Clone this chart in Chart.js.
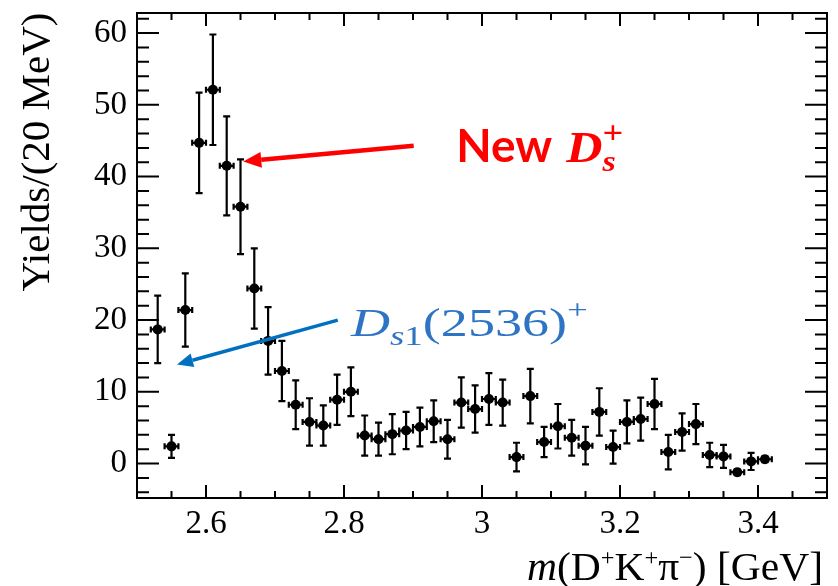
<!DOCTYPE html>
<html><head><meta charset="utf-8">
<script src="https://cdn.jsdelivr.net/npm/chart.js@4"></script>
<style>html,body{margin:0;padding:0;background:#fff}#wrap{width:838px;height:586px}</style>
</head><body><div id="wrap"><canvas id="c" width="838" height="586"></canvas></div>
<script>
// ---- data ----
const binCenters = [2.53,2.55,2.57,2.59,2.61,2.63,2.65,2.67,2.69,2.71,2.73,2.75,2.77,2.79,2.81,2.83,2.85,2.87,2.89,2.91,2.93,2.95,2.97,2.99,3.01,3.03,3.05,3.07,3.09,3.11,3.13,3.15,3.17,3.19,3.21,3.23,3.25,3.27,3.29,3.31,3.33,3.35,3.37,3.39,3.41];
const yields = [18.7,2.4,21.4,44.7,52.1,41.5,35.8,24.4,17.1,12.9,8.2,5.8,5.3,8.9,10.0,3.9,3.4,4.1,4.6,5.1,5.9,3.4,8.5,7.6,9.0,8.5,0.9,9.4,3.0,5.2,3.6,2.5,7.2,2.3,5.8,6.2,8.3,1.6,4.4,5.5,1.2,1.0,-1.2,0.3,0.6];
const yieldErrors = [4.7,1.6,5.1,7.0,7.7,6.9,6.6,5.6,4.7,4.2,3.4,3.3,2.8,3.5,3.4,2.8,2.3,2.8,2.6,2.7,2.9,2.7,3.5,3.3,3.6,3.2,2.0,3.8,2.1,3.1,2.5,2.6,3.3,2.3,3.0,3.0,3.5,2.4,2.6,2.8,1.7,1.6,0.4,1.2,0.4];
const binHalfWidth = 0.01;
const xMajorTicks = [2.6,2.8,3.0,3.2,3.4];
const xTickLabels = ['2.6','2.8','3','3.2','3.4'];
const yMajorTicks = [0,10,20,30,40,50,60];
const yTickLabels = ['0','10','20','30','40','50','60'];
const xRange = [2.5, 3.5];
const yRange = [-4.8, 62.8];
const xMinorStep = 0.05, yMinorStep = 2;

// ---- annotation placement (data coordinates) ----
const redNote = {anchor:[2.9626, 42.0], tail:[2.901, 44.3], head:[2.654, 42.1], color:'#FF0000'};
const blueNote = {anchor:[2.810, 17.8], tail:[2.791, 20.0], head:[2.558, 13.8], color:'#2E74C4', arrowColor:'#0070C0'};

const SERIF = '"Liberation Serif", "Times New Roman", serif';

function drawRuns(ctx, x, y, runs, targetWidth) {
  let natural = 0;
  const widths = runs.map(r => { ctx.font = r.font; return ctx.measureText(r.text).width; });
  runs.forEach((r,i) => { if (!r.stack) natural += widths[i]; });
  const sx = targetWidth ? targetWidth / natural : 1;
  ctx.save();
  ctx.translate(x, y);
  ctx.scale(sx, 1);
  let cx = 0;
  runs.forEach((r,i) => {
    ctx.font = r.font;
    ctx.fillText(r.text, cx, r.dy || 0);
    if (!r.stack) cx += widths[i];
  });
  ctx.restore();
}

function arrow(ctx, x1, y1, x2, y2, color, lw, hl, hw) {
  const a = Math.atan2(y2 - y1, x2 - x1);
  const bx = x2 - hl * Math.cos(a), by = y2 - hl * Math.sin(a);
  ctx.save();
  ctx.strokeStyle = color; ctx.fillStyle = color; ctx.lineWidth = lw;
  ctx.beginPath(); ctx.moveTo(x1, y1); ctx.lineTo(bx, by); ctx.stroke();
  ctx.beginPath();
  ctx.moveTo(x2, y2);
  ctx.lineTo(bx + hw * Math.sin(a), by - hw * Math.cos(a));
  ctx.lineTo(bx - hw * Math.sin(a), by + hw * Math.cos(a));
  ctx.closePath(); ctx.fill();
  ctx.restore();
}

const errorBars = {
  id: 'errorBars',
  beforeDatasetsDraw(chart) {
    const {ctx, scales: {x, y}} = chart;
    ctx.save();
    ctx.strokeStyle = '#000'; ctx.lineWidth = 2.2;
    binCenters.forEach((c, i) => {
      const px = x.getPixelForValue(c);
      const py = y.getPixelForValue(yields[i]);
      const pt = y.getPixelForValue(yields[i] + yieldErrors[i]);
      const pb = y.getPixelForValue(yields[i] - yieldErrors[i]);
      const pl = x.getPixelForValue(c - binHalfWidth);
      const pr = x.getPixelForValue(c + binHalfWidth);
      ctx.beginPath();
      ctx.moveTo(px, pt); ctx.lineTo(px, pb);
      ctx.moveTo(px - 3.5, pt); ctx.lineTo(px + 3.5, pt);
      ctx.moveTo(px - 3.5, pb); ctx.lineTo(px + 3.5, pb);
      ctx.moveTo(pl, py); ctx.lineTo(pr, py);
      ctx.moveTo(pl, py - 3); ctx.lineTo(pl, py + 3);
      ctx.moveTo(pr, py - 3); ctx.lineTo(pr, py + 3);
      ctx.stroke();
    });
    ctx.restore();
  }
};

const frameAndLabels = {
  id: 'frameAndLabels',
  afterDraw(chart) {
    const {ctx, chartArea: ca, scales: {x, y}} = chart;
    ctx.save();
    ctx.strokeStyle = '#000'; ctx.lineWidth = 2;
    ctx.strokeRect(ca.left, ca.top, ca.right - ca.left, ca.bottom - ca.top);
    ctx.beginPath();
    for (let v = Math.ceil(xRange[0] / xMinorStep) * xMinorStep; v < xRange[1] - 1e-9; v += xMinorStep) {
      if (v <= xRange[0] + 1e-9) continue;
      const major = Math.abs(v / 0.2 - Math.round(v / 0.2)) < 1e-6;
      const L = major ? 13 : 7;
      const px = x.getPixelForValue(v);
      ctx.moveTo(px, ca.bottom); ctx.lineTo(px, ca.bottom - L);
      ctx.moveTo(px, ca.top); ctx.lineTo(px, ca.top + L);
    }
    for (let v = Math.ceil(yRange[0] / yMinorStep) * yMinorStep; v <= yRange[1]; v += yMinorStep) {
      const major = Math.abs(v % 10) < 1e-6;
      const L = major ? 22 : 12;
      const py = y.getPixelForValue(v);
      ctx.moveTo(ca.left, py); ctx.lineTo(ca.left + L, py);
      ctx.moveTo(ca.right, py); ctx.lineTo(ca.right - L, py);
    }
    ctx.stroke();

    // y axis title
    ctx.fillStyle = '#000';
    ctx.save();
    ctx.translate(38, 152);
    ctx.rotate(-Math.PI / 2);
    ctx.textAlign = 'center'; ctx.textBaseline = 'middle';
    ctx.font = '41px ' + SERIF;
    ctx.fillText('Yields/(20 MeV)', 0, 0);
    ctx.restore();

    // x axis title, right aligned
    ctx.textBaseline = 'alphabetic'; ctx.textAlign = 'left';
    const big = '41px ' + SERIF, it = 'italic 41px ' + SERIF, sm = '24px ' + SERIF;
    const titleRuns = [
      {text:'m', font:it}, {text:'(D', font:big}, {text:'+', font:sm, dy:-15},
      {text:'K', font:big}, {text:'+', font:sm, dy:-15}, {text:'\u03c0', font:big},
      {text:'\u2212', font:sm, dy:-15}, {text:') [GeV]', font:big}
    ];
    drawRuns(ctx, 527, 580, titleRuns, 296);

    // red annotation
    ctx.fillStyle = redNote.color;
    const ra = [x.getPixelForValue(redNote.anchor[0]), y.getPixelForValue(redNote.anchor[1])];
    ctx.font = 'bold 46px Lato, "Open Sans", sans-serif';
    ctx.fillText('New', ra[0], ra[1]);
    drawRuns(ctx, ra[0] + 110, ra[1], [
      {text:'D', font:'bold italic 44px ' + SERIF},
      {text:'s', font:'bold italic 30px ' + SERIF, dy:9, stack:true},
      {text:'+', font:'bold 32px ' + SERIF, dy:-19}
    ], 57);
    arrow(ctx, x.getPixelForValue(redNote.tail[0]), y.getPixelForValue(redNote.tail[1]),
      x.getPixelForValue(redNote.head[0]), y.getPixelForValue(redNote.head[1]), redNote.color, 4.5, 18, 8);

    // blue annotation
    ctx.fillStyle = blueNote.color;
    const ba = [x.getPixelForValue(blueNote.anchor[0]), y.getPixelForValue(blueNote.anchor[1])];
    drawRuns(ctx, ba[0], ba[1], [
      {text:'D', font:'italic 41px ' + SERIF},
      {text:'s', font:'italic 28px ' + SERIF, dy:9},
      {text:'1', font:'28px ' + SERIF, dy:9},
      {text:'(2536)', font:'41px ' + SERIF},
      {text:'+', font:'28px ' + SERIF, dy:-17}
    ], 237);
    arrow(ctx, x.getPixelForValue(blueNote.tail[0]), y.getPixelForValue(blueNote.tail[1]),
      x.getPixelForValue(blueNote.head[0]), y.getPixelForValue(blueNote.head[1]), blueNote.arrowColor, 3.5, 16, 7);
    ctx.restore();
  }
};

new Chart(document.getElementById('c'), {
  type: 'scatter',
  data: {
    datasets: [{
      data: binCenters.map((c, i) => ({x: c, y: yields[i]})),
      pointRadius: 5, pointHoverRadius: 5,
      backgroundColor: '#000', borderColor: '#000', borderWidth: 0
    }]
  },
  options: {
    responsive: false, animation: false,
    layout: {padding: {left: 0, right: 11, top: 13, bottom: 0}},
    plugins: {legend: {display: false}, tooltip: {enabled: false}},
    scales: {
      x: {
        type: 'linear', min: xRange[0], max: xRange[1],
        afterBuildTicks: s => { s.ticks = xMajorTicks.map(v => ({value: v})); },
        afterFit: s => { s.height = 88; s.paddingLeft = 0; s.paddingRight = 0; },
        ticks: {callback: (v, i) => xTickLabels[i], font: {family: SERIF, size: 33}, color: '#000', padding: 7, maxRotation: 0, autoSkip: false},
        grid: {display: false, drawTicks: false}, border: {display: false}
      },
      y: {
        type: 'linear', min: yRange[0], max: yRange[1],
        afterBuildTicks: s => { s.ticks = yMajorTicks.map(v => ({value: v})); },
        afterFit: s => { s.width = 137; s.paddingTop = 0; s.paddingBottom = 0; },
        ticks: {callback: (v, i) => yTickLabels[i], font: {family: SERIF, size: 33}, color: '#000', padding: 10, autoSkip: false},
        grid: {display: false, drawTicks: false}, border: {display: false}
      }
    }
  },
  plugins: [errorBars, frameAndLabels]
});
</script>
</body></html>
